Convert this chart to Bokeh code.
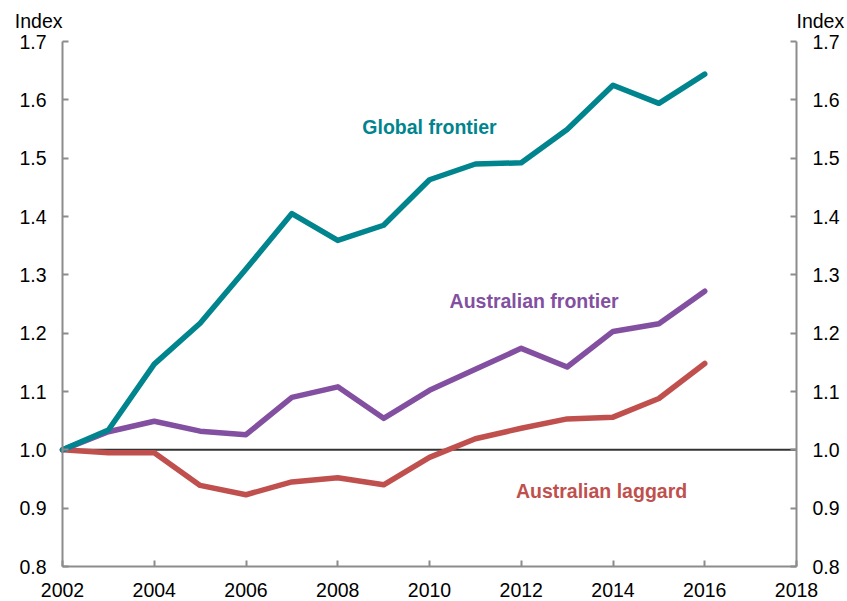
from bokeh.plotting import figure
from bokeh.models import Label, LinearAxis, FixedTicker, PrintfTickFormatter, Range1d
from bokeh.embed import file_html
from bokeh.resources import INLINE

# ---- data ----
years = [2002, 2003, 2004, 2005, 2006, 2007, 2008, 2009, 2010, 2011, 2012, 2013, 2014, 2015, 2016]
global_frontier = [1.000, 1.034, 1.147, 1.217, 1.310, 1.405, 1.359, 1.385, 1.463, 1.490, 1.492, 1.549, 1.625, 1.594, 1.644]
aus_frontier = [1.000, 1.031, 1.049, 1.032, 1.026, 1.090, 1.108, 1.054, 1.102, 1.138, 1.174, 1.142, 1.203, 1.216, 1.272]
aus_laggard = [1.000, 0.995, 0.995, 0.939, 0.923, 0.945, 0.952, 0.940, 0.987, 1.019, 1.037, 1.053, 1.056, 1.088, 1.148]
x_ticks = [2002, 2004, 2006, 2008, 2010, 2012, 2014, 2016, 2018]
y_ticks = [0.8, 0.9, 1.0, 1.1, 1.2, 1.3, 1.4, 1.5, 1.6, 1.7]
base_value = 1.0
series_names = ["Global frontier", "Australian frontier", "Australian laggard"]
unit_label = "Index"

# ---- styles / layout (pixels) ----
FONT = "Liberation Sans"
FS = "19.5px"
TEAL = "#00848E"
PURPLE = "#8350A1"
RED = "#C0504D"
AXIS_GRAY = "#8C8C8C"
W, H = 847, 601
AX_LEFT, AX_RIGHT, AX_TOP, AX_BOTTOM = 62, 796, 41, 566

x0, x1 = x_ticks[0], x_ticks[-1]
y0, y1 = y_ticks[0], y_ticks[-1]
ppx = (AX_RIGHT - AX_LEFT) / (x1 - x0)
ppy = (AX_BOTTOM - AX_TOP) / (y1 - y0)
xr = Range1d(x0 - AX_LEFT / ppx, x0 + (W - AX_LEFT) / ppx)
yr = Range1d(y1 - (H - AX_TOP) / ppy, y1 + AX_TOP / ppy)

p = figure(width=W, height=H, output_backend="svg", toolbar_location=None,
           x_range=xr, y_range=yr,
           min_border=0, min_border_left=0, min_border_right=0, min_border_top=0, min_border_bottom=0)
p.title.visible = False
p.outline_line_color = None
p.grid.visible = False
p.background_fill_color = "white"
p.border_fill_color = "white"


def style_axis(ax):
    ax.axis_line_color = AXIS_GRAY
    ax.axis_line_width = 2
    ax.major_tick_line_color = AXIS_GRAY
    ax.major_tick_line_width = 2
    ax.major_tick_in = 6
    ax.major_tick_out = 0
    ax.minor_tick_line_color = None
    ax.major_label_text_font = FONT
    ax.major_label_text_font_size = FS
    ax.major_label_text_color = "black"


xa = p.xaxis[0]
xa.ticker = FixedTicker(ticks=x_ticks)
xa.fixed_location = y0
xa.bounds = (x0, x1)
style_axis(xa)
xa.major_label_standoff = 16

ya = p.yaxis[0]
ya.ticker = FixedTicker(ticks=y_ticks)
ya.formatter = PrintfTickFormatter(format="%.1f")
ya.fixed_location = x0
ya.bounds = (y0, y1)
style_axis(ya)
ya.major_label_standoff = 16

right = LinearAxis(ticker=FixedTicker(ticks=y_ticks), formatter=PrintfTickFormatter(format="%.1f"),
                   fixed_location=x1, bounds=(y0, y1))
style_axis(right)
right.major_label_standoff = 16
p.add_layout(right, "right")

# 1.0 reference line across the axis span
p.segment(x0=[x0], y0=[base_value], x1=[x1], y1=[base_value], line_color="#333333", line_width=2)

for vals, col in [(aus_laggard, RED), (aus_frontier, PURPLE), (global_frontier, TEAL)]:
    p.line(years, vals, line_color=col, line_width=5.5, line_join="round", line_cap="round")

# series labels
label_pos = [(2010.0, 1.553, TEAL), (2012.28, 1.255, PURPLE), (2013.75, 0.929, RED)]
for name, (lx, ly, col) in zip(series_names, label_pos):
    p.add_layout(Label(x=lx, y=ly, text=name, text_align="center", text_baseline="middle",
                       text_font=FONT, text_font_size=FS, text_font_style="bold", text_color=col))

# "Index" unit labels above both value axes
p.add_layout(Label(x=x0, y=y1, y_offset=21, text=unit_label, text_align="right", text_baseline="middle",
                   text_font=FONT, text_font_size=FS, text_color="black"))
p.add_layout(Label(x=x1, y=y1, y_offset=21, text=unit_label, text_align="left", text_baseline="middle",
                   text_font=FONT, text_font_size=FS, text_color="black"))

open("out.html", "w").write(file_html(p, INLINE))
